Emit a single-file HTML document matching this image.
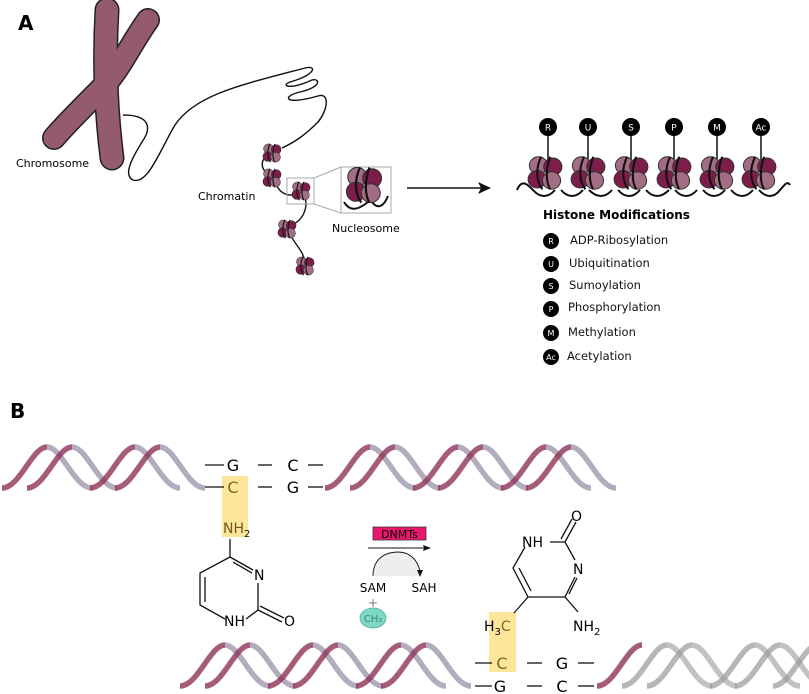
<!DOCTYPE html>
<html><head><meta charset="utf-8"><style>
html,body{margin:0;padding:0;background:#fff;}
svg{display:block;}
text{font-family:"DejaVu Sans","Liberation Sans",sans-serif;}
</style></head><body>
<svg width="809" height="694" viewBox="0 0 809 694" xmlns="http://www.w3.org/2000/svg">
<defs>
<g id="arch">
<path d="M0,41 C18,41 30,0 45,0" fill="none" stroke="#8e3358" stroke-opacity="0.8" stroke-width="5.5"/>
<path d="M45,0 C60,0 72,41 90,41" fill="none" stroke="#8a7f9c" stroke-opacity="0.65" stroke-width="5.5"/>
</g>
<g id="archg">
<path d="M0,41 C18,41 30,0 45,0" fill="none" stroke="#999" stroke-opacity="0.7" stroke-width="5.5"/>
<path d="M45,0 C60,0 72,41 90,41" fill="none" stroke="#999" stroke-opacity="0.6" stroke-width="5.5"/>
</g>
<g id="nuc">
<circle cx="-5" cy="-6" r="7" fill="#a36d85" stroke="#333" stroke-width="0.8"/>
<circle cx="6" cy="-5" r="7" fill="#7d1d4a" stroke="#333" stroke-width="0.8"/>
<circle cx="-6" cy="5" r="7" fill="#7d1d4a" stroke="#333" stroke-width="0.8"/>
<circle cx="5" cy="6" r="7" fill="#a36d85" stroke="#333" stroke-width="0.8"/>
<path d="M-3,-13 C-8,-2 -6,8 -2,13 M4,-13 C0,-2 1,8 4,13" fill="none" stroke="#111" stroke-width="1.6"/>
</g>
</defs>

<text x="18" y="30" font-size="20" font-weight="bold">A</text>
<text x="10" y="418" font-size="20" font-weight="bold">B</text>

<!-- chromosome -->
<path d="M107,10 C104,60 106,110 112,158" fill="none" stroke="#222" stroke-width="25" stroke-linecap="round"/>
<path d="M148,20 C130,45 120,70 100,90 C80,110 65,125 54,138" fill="none" stroke="#222" stroke-width="24" stroke-linecap="round"/>
<path d="M107,10 C104,60 106,110 112,158" fill="none" stroke="#945a70" stroke-width="22" stroke-linecap="round"/>
<path d="M148,20 C130,45 120,70 100,90 C80,110 65,125 54,138" fill="none" stroke="#945a70" stroke-width="21" stroke-linecap="round"/>
<text x="16" y="167" font-size="11">Chromosome</text>

<!-- chromatin line -->
<path d="M123,115 C150,115 152,128 142,142 C134,155 122,175 133,180 C148,185 160,150 175,125 C195,95 240,85 305,68 C318,65 315,75 290,82 C280,86 290,90 312,80 C320,78 322,87 300,92 C282,96 283,106 318,96 C330,92 328,110 318,122 C305,135 295,142 282,148 M268,155 C260,160 260,170 270,175 M275,182 C280,195 290,198 300,192 M305,196 C308,208 304,220 290,226 M290,234 C295,245 303,250 305,262" fill="none" stroke="#111" stroke-width="1.4"/>
<use href="#nuc" transform="translate(272,153) scale(0.7)"/>
<use href="#nuc" transform="translate(272,178) scale(0.7)"/>
<use href="#nuc" transform="translate(301,191) scale(0.7)"/>
<use href="#nuc" transform="translate(287,229) scale(0.7)"/>
<use href="#nuc" transform="translate(305,266) scale(0.7)"/>
<text x="198" y="200" font-size="11">Chromatin</text>
<rect x="287" y="178" width="27" height="26" fill="none" stroke="#aaa" stroke-width="1"/>
<rect x="341" y="167" width="50" height="46" fill="none" stroke="#aaa" stroke-width="1"/>
<line x1="314" y1="178" x2="341" y2="167" stroke="#aaa"/>
<line x1="314" y1="204" x2="341" y2="213" stroke="#aaa"/>
<path d="M344,202 C350,212 358,210 368,202 M372,202 C378,210 384,206 388,196" fill="none" stroke="#111" stroke-width="2"/>
<use href="#nuc" transform="translate(364,185) scale(1.35)"/>
<text x="332" y="232" font-size="11">Nucleosome</text>
<line x1="407" y1="188" x2="482" y2="188" stroke="#111" stroke-width="1.6"/>
<path d="M491,188 L478,182 L481,188 L478,194 Z" fill="#111"/>

<!-- histone row -->
<path d="M517,190 C522,178 528,185 533,190 C540,198 548,198 555,190 M561,190 C568,198 576,198 583,190 M589,190 C597,198 605,198 612,190 M618,190 C625,198 633,198 640,190 M646,190 C653,198 661,198 669,190 M675,190 C682,198 690,198 697,190 M703,190 C710,198 718,198 725,190 M731,190 C738,198 746,198 753,190 M759,190 C766,198 774,198 780,190 C784,186 787,180 790,185" fill="none" stroke="#111" stroke-width="2"/>
<g stroke="#111" stroke-width="1.5">
<line x1="548" y1="127" x2="548" y2="160"/><line x1="588" y1="127" x2="588" y2="160"/><line x1="631" y1="127" x2="631" y2="160"/><line x1="674" y1="127" x2="674" y2="160"/><line x1="717" y1="127" x2="717" y2="160"/><line x1="761" y1="127" x2="761" y2="160"/>
</g>
<use href="#nuc" transform="translate(545,173) scale(1.3,1.25)"/>
<use href="#nuc" transform="translate(588,173) scale(1.3,1.25)"/>
<use href="#nuc" transform="translate(631,173) scale(1.3,1.25)"/>
<use href="#nuc" transform="translate(674,173) scale(1.3,1.25)"/>
<use href="#nuc" transform="translate(717,173) scale(1.3,1.25)"/>
<use href="#nuc" transform="translate(759,173) scale(1.3,1.25)"/>
<g fill="#000"><circle cx="548" cy="127" r="9"/><circle cx="588" cy="127" r="9"/><circle cx="631" cy="127" r="9"/><circle cx="674" cy="127" r="9"/><circle cx="717" cy="127" r="9"/><circle cx="761" cy="127" r="9"/></g>
<g fill="#fff" font-size="9" text-anchor="middle">
<text x="548" y="130.5">R</text><text x="588" y="130.5">U</text><text x="631" y="130.5">S</text><text x="674" y="130.5">P</text><text x="717" y="130.5">M</text><text x="761" y="130.5">Ac</text>
</g>
<text x="543" y="219" font-size="12" font-weight="bold">Histone Modifications</text>
<g fill="#000"><circle cx="551" cy="241" r="8"/><circle cx="551" cy="264" r="8"/><circle cx="551" cy="286" r="8"/><circle cx="551" cy="309" r="8"/><circle cx="551" cy="333" r="8"/><circle cx="551" cy="357" r="8"/></g>
<g fill="#fff" font-size="8" text-anchor="middle">
<text x="551" y="244">R</text><text x="551" y="267">U</text><text x="551" y="289">S</text><text x="551" y="312">P</text><text x="551" y="336">M</text><text x="551" y="360">Ac</text>
</g>
<g font-size="11.5" fill="#111">
<text x="570" y="244">ADP-Ribosylation</text><text x="569" y="267">Ubiquitination</text><text x="569" y="289">Sumoylation</text><text x="568" y="311">Phosphorylation</text><text x="568" y="336">Methylation</text><text x="567" y="360">Acetylation</text>
</g>

<!-- B: top helix -->
<g transform="translate(0,447)">
<use href="#arch" x="2"/><use href="#arch" x="27"/><use href="#arch" x="90"/><use href="#arch" x="115"/>
<use href="#arch" x="325"/><use href="#arch" x="350"/><use href="#arch" x="413"/><use href="#arch" x="438"/><use href="#arch" x="501"/><use href="#arch" x="526"/>
</g>
<rect x="222" y="476" width="26" height="61" fill="#fde69a"/>
<g stroke="#111" stroke-width="1.3">
<line x1="205" y1="465" x2="224" y2="465"/><line x1="258" y1="465" x2="272" y2="465"/><line x1="308" y1="465" x2="323" y2="465"/>
<line x1="205" y1="487" x2="224" y2="487"/><line x1="258" y1="487" x2="272" y2="487"/><line x1="308" y1="487" x2="323" y2="487"/>
</g>
<g font-size="16" text-anchor="middle">
<text x="233" y="471">G</text><text x="293" y="471">C</text>
<text x="233" y="493" fill="#7a6a20">C</text><text x="293" y="493">G</text>
</g>
<text x="223" y="533" font-size="14" fill="#6a5a20">NH<tspan font-size="10" dy="4" fill="#111">2</tspan></text>
<!-- cytosine ring -->
<g stroke="#111" stroke-width="1.3" fill="none">
<line x1="230" y1="539" x2="230" y2="557"/>
<path d="M230,557 L253,570 M230,557 L200,573 L200,605 L225,619 M246,619 L258,610 L258,583"/>
<line x1="233" y1="562" x2="252" y2="573"/>
<line x1="205" y1="577" x2="205" y2="602"/>
<line x1="258" y1="610" x2="282" y2="622"/><line x1="260" y1="606" x2="284" y2="618"/>
</g>
<g font-size="14"><text x="254" y="580">N</text><text x="224" y="626">NH</text><text x="284" y="626">O</text></g>

<!-- DNMT reaction -->
<rect x="373" y="527" width="53" height="13" fill="#e8186d" stroke="#333" stroke-width="0.8"/>
<text x="399.5" y="538" font-size="11" text-anchor="middle">DNMTs</text>
<line x1="368" y1="548" x2="425" y2="548" stroke="#111" stroke-width="1"/>
<path d="M431,548 L423,545 L424,548 L423,551 Z" fill="#111"/>
<path d="M373,576 C373,558 386,552 398,552 C410,552 418,560 420,572 L420,576 Z" fill="#eee"/>
<path d="M373,576 C373,558 386,552 398,552 C410,552 418,560 420,572" fill="none" stroke="#111" stroke-width="0.9"/>
<path d="M420,577 L417,570 L423,570 Z" fill="#111"/>
<text x="373" y="592" font-size="12" text-anchor="middle">SAM</text>
<text x="424" y="592" font-size="12" text-anchor="middle">SAH</text>
<text x="373" y="607" font-size="12" text-anchor="middle" fill="#777">+</text>
<ellipse cx="373" cy="618" rx="13" ry="10" fill="#7fd8c0" stroke="#5aa" stroke-width="0.8"/>
<text x="373" y="622" font-size="10" text-anchor="middle" fill="#3a8a80">CH₃</text>

<!-- bottom helix -->
<g transform="translate(0,645)">
<use href="#arch" x="180"/><use href="#arch" x="205"/><use href="#arch" x="268"/><use href="#arch" x="293"/><use href="#arch" x="356"/><use href="#arch" x="381"/>
<path d="M597,41 C615,41 627,0 642,0" fill="none" stroke="#8e3358" stroke-opacity="0.8" stroke-width="5.5"/>
<use href="#archg" x="622"/><use href="#archg" x="647"/><use href="#archg" x="710"/><use href="#archg" x="735"/><use href="#archg" x="773"/>
</g>
<rect x="489" y="612" width="27" height="60" fill="#fde69a"/>
<g stroke="#111" stroke-width="1.3">
<line x1="475" y1="663" x2="492" y2="663"/><line x1="527" y1="663" x2="542" y2="663"/><line x1="578" y1="663" x2="594" y2="663"/>
<line x1="475" y1="686" x2="492" y2="686"/><line x1="527" y1="686" x2="542" y2="686"/><line x1="578" y1="686" x2="594" y2="686"/>
</g>
<g font-size="16" text-anchor="middle">
<text x="502" y="669" fill="#7a6a20">C</text><text x="562" y="669">G</text>
<text x="500" y="692">G</text><text x="562" y="692">C</text>
</g>
<!-- methylcytosine ring -->
<g stroke="#111" stroke-width="1.3" fill="none">
<path d="M525,547 L513,568 L528,597 L565,597 L575,577 M575,560 L565,542 L550,542"/>
<line x1="519" y1="568" x2="531" y2="591"/>
<line x1="569" y1="594" x2="577" y2="578"/>
<line x1="565" y1="542" x2="576" y2="522"/><line x1="561" y1="539" x2="572" y2="519"/>
<line x1="528" y1="597" x2="514" y2="613"/>
<line x1="565" y1="597" x2="578" y2="612"/>
</g>
<g font-size="14">
<text x="522" y="547">NH</text><text x="571" y="521">O</text><text x="573" y="574">N</text>
<text x="573" y="631">NH<tspan font-size="10" dy="4">2</tspan></text>
<text x="484" y="631">H<tspan font-size="10" dy="4">3</tspan><tspan dy="-4" fill="#7a6a20">C</tspan></text>
</g>
</svg>
</body></html>
